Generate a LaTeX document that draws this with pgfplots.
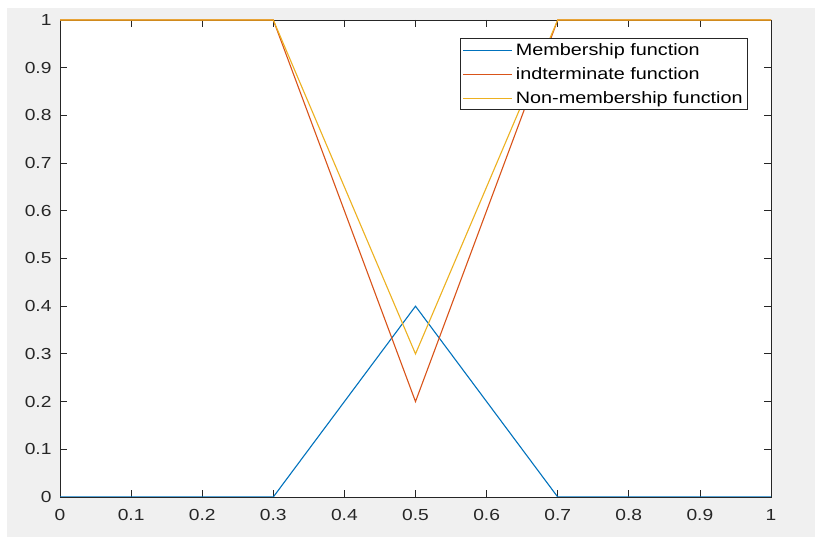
\documentclass[border=0pt]{standalone}
\usepackage{pgfplots}
\pgfplotsset{compat=1.18}
\usepackage{fontspec}
\setmainfont{Liberation Sans}[FakeStretch=1.2]
\definecolor{mblue}{rgb}{0,0.447,0.741}
\definecolor{morange}{rgb}{0.85,0.325,0.098}
\definecolor{myellow}{rgb}{0.929,0.694,0.125}
\definecolor{figbg}{HTML}{F0F0F0}
\definecolor{axc}{HTML}{262626}
\begin{document}
\begin{tikzpicture}
\fill[white] (0pt,0pt) rectangle (815pt,537pt);
\fill[figbg] (7pt,0pt) rectangle (815pt,529pt);
\begin{axis}[
  at={(60pt,40pt)}, anchor=south west,
  scale only axis, width=711pt, height=477pt,
  xmin=0, xmax=1, ymin=0, ymax=1,
  xtick={0,0.1,...,1}, ytick={0,0.1,...,1},
  xticklabels={0,0.1,0.2,0.3,0.4,0.5,0.6,0.7,0.8,0.9,1},
  yticklabels={0,0.1,0.2,0.3,0.4,0.5,0.6,0.7,0.8,0.9,1},
  tick align=inside, tick pos=both,
  major tick length=7pt,
  axis line style={axc, line width=0.8pt},
  tick style={axc, line width=0.8pt},
  axis background/.style={fill=white},
  ticklabel style={font=\fontsize{16}{18}\selectfont, text=axc},
  yticklabel style={xshift=-5pt},
  xticklabel style={yshift=-9pt},
  legend cell align=left,
  legend style={at={(rel axis cs:0.9677,0.962)}, anchor=north east,
    font=\fontsize{16.5}{18}\selectfont, draw=axc, line width=0.8pt,
    inner xsep=2pt, inner ysep=4pt, row sep=8.5pt,
    nodes={inner xsep=3pt, inner ysep=1pt}},
  legend image code/.code={\draw[#1] (0pt,0pt) -- (49pt,0pt);},
]
\addplot[mblue, line width=1.1pt] coordinates {(0,0) (0.3,0) (0.5,0.4) (0.7,0) (1,0)};
\addlegendentry{Membership function}
\addplot[morange, line width=1.1pt] coordinates {(0,1) (0.3,1) (0.5,0.2) (0.7,1) (1,1)};
\addlegendentry{indterminate function}
\addplot[myellow, line width=1.1pt] coordinates {(0,1) (0.3,1) (0.5,0.3) (0.7,1) (1,1)};
\addlegendentry{Non-membership function}
\end{axis}
\end{tikzpicture}
\end{document}
